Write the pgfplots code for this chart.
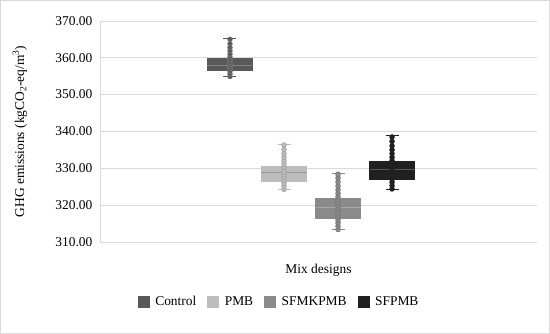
\documentclass[border=0pt]{standalone}
\usepackage{fontspec}
\setmainfont{Liberation Serif}
\usepackage{pgfplots}
\pgfplotsset{compat=1.18}
\usepgfplotslibrary{statistics}
\definecolor{c1}{HTML}{595959}
\definecolor{c2}{HTML}{BDBDBD}
\definecolor{c3}{HTML}{8A8A8A}
\definecolor{c4}{HTML}{202020}
\definecolor{gridc}{HTML}{D9D9D9}
\newcommand{\fs}{\fontsize{13.5}{16}\selectfont}
\begin{document}
\begin{tikzpicture}
\draw[gridc, line width=0.8bp] (0.5bp,0.5bp) rectangle (549.5bp,333.5bp);
\begin{axis}[
  at={(100bp,92bp)}, anchor=south west,
  scale only axis, width=437bp, height=221bp,
  xmin=0, xmax=437, ymin=310, ymax=370,
  ytick={310,320,...,370},
  xtick=\empty,
  ymajorgrids, grid style={gridc, line width=0.8bp},
  axis y line*=left, axis x line*=bottom,
  x axis line style={draw=none},
  y axis line style={draw=gridc, line width=0.8bp},
  tick style={draw=none}, major tick length=0pt,
  /pgf/number format/assume math mode=true,
  yticklabel={\pgfmathprintnumber[fixed, fixed zerofill, precision=2]{\tick}},
  yticklabel style={font=\fs, xshift=-4bp},
  ylabel={GHG emissions (kgCO\textsubscript{2}-eq/m\textsuperscript{3})},
  ylabel style={font=\fs, at={(axis description cs:-0.183,0.5)}, anchor=center},
  xlabel={Mix designs},
  xlabel style={font=\fs, at={(axis description cs:0.5,-0.127)}, anchor=center},
  legend columns=4,
  legend style={font=\fs, draw=none, at={(axis description cs:0.41,-0.271)}, anchor=center,
    /tikz/every even column/.append style={column sep=9bp}},
  legend image code/.code={\draw[#1] (0bp,-5.5bp) rectangle (11bp,5.5bp); \path (15bp,0bp);},
  boxplot/draw direction=y,
  boxplot/box extend=45,
  boxplot/whisker extend=13,
]
\addlegendimage{fill=c1, draw=c1}
\addlegendentry{Control}
\addlegendimage{fill=c2, draw=c2}
\addlegendentry{PMB}
\addlegendimage{fill=c3, draw=c3}
\addlegendentry{SFMKPMB}
\addlegendimage{fill=c4, draw=c4}
\addlegendentry{SFPMB}

\addplot[forget plot, fill=c1, draw=c1, line width=0.8bp,
  boxplot prepared={draw direction=y, draw position=130, lower whisker=354.9, lower quartile=356.5,
    median=358.0, upper quartile=359.8, upper whisker=365.2,
    every median/.style={draw=c1!75!white}}] coordinates {};
\addplot[forget plot, fill=c2, draw=c2, line width=0.8bp,
  boxplot prepared={draw direction=y, draw position=184, lower whisker=324.3, lower quartile=326.5,
    median=329.0, upper quartile=330.6, upper whisker=336.6,
    every median/.style={draw=c2!80!black}}] coordinates {};
\addplot[forget plot, fill=c3, draw=c3, line width=0.8bp,
  boxplot prepared={draw direction=y, draw position=238, lower whisker=313.4, lower quartile=316.5,
    median=319.5, upper quartile=321.9, upper whisker=328.6,
    every median/.style={draw=c3!75!white}}] coordinates {};
\addplot[forget plot, fill=c4, draw=c4, line width=0.8bp,
  boxplot prepared={draw direction=y, draw position=292, lower whisker=324.3, lower quartile=327.0,
    median=329.8, upper quartile=332.0, upper whisker=338.8,
    every median/.style={draw=c4!75!white}}] coordinates {};

\addplot[forget plot, only marks, mark=*, mark size=2.4bp, mark options={fill=c1, draw=c1!80!white, line width=0.6bp}] coordinates {
(130,354.9) (130,355.6) (130,356.3) (130,357.0) (130,357.6) (130,358.2) (130,358.8) (130,359.5)
(130,360.2) (130,361.0) (130,361.9) (130,362.8) (130,363.8) (130,365.0)};
\addplot[forget plot, only marks, mark=*, mark size=2.4bp, mark options={fill=c2, draw=c2!85!black, line width=0.6bp}] coordinates {
(184,324.3) (184,325.2) (184,326.0) (184,326.8) (184,327.5) (184,328.2) (184,328.9) (184,329.6)
(184,330.3) (184,331.1) (184,332.0) (184,333.0) (184,334.0) (184,335.1) (184,336.3)};
\addplot[forget plot, only marks, mark=*, mark size=2.4bp, mark options={fill=c3, draw=c3!85!black, line width=0.6bp}] coordinates {
(238,313.4) (238,314.3) (238,315.2) (238,316.0) (238,316.8) (238,317.6) (238,318.4) (238,319.1)
(238,319.8) (238,320.6) (238,321.4) (238,322.3) (238,323.2) (238,324.2) (238,325.2) (238,326.3) (238,327.4) (238,328.4)};
\addplot[forget plot, only marks, mark=*, mark size=2.4bp, mark options={fill=c4, draw=c4, line width=0.6bp}] coordinates {
(292,324.4) (292,325.3) (292,326.2) (292,327.0) (292,327.8) (292,328.5) (292,329.2) (292,329.9)
(292,330.6) (292,331.3) (292,332.1) (292,333.0) (292,334.0) (292,335.0) (292,336.1) (292,337.3) (292,338.5)};
\end{axis}
\end{tikzpicture}
\end{document}
